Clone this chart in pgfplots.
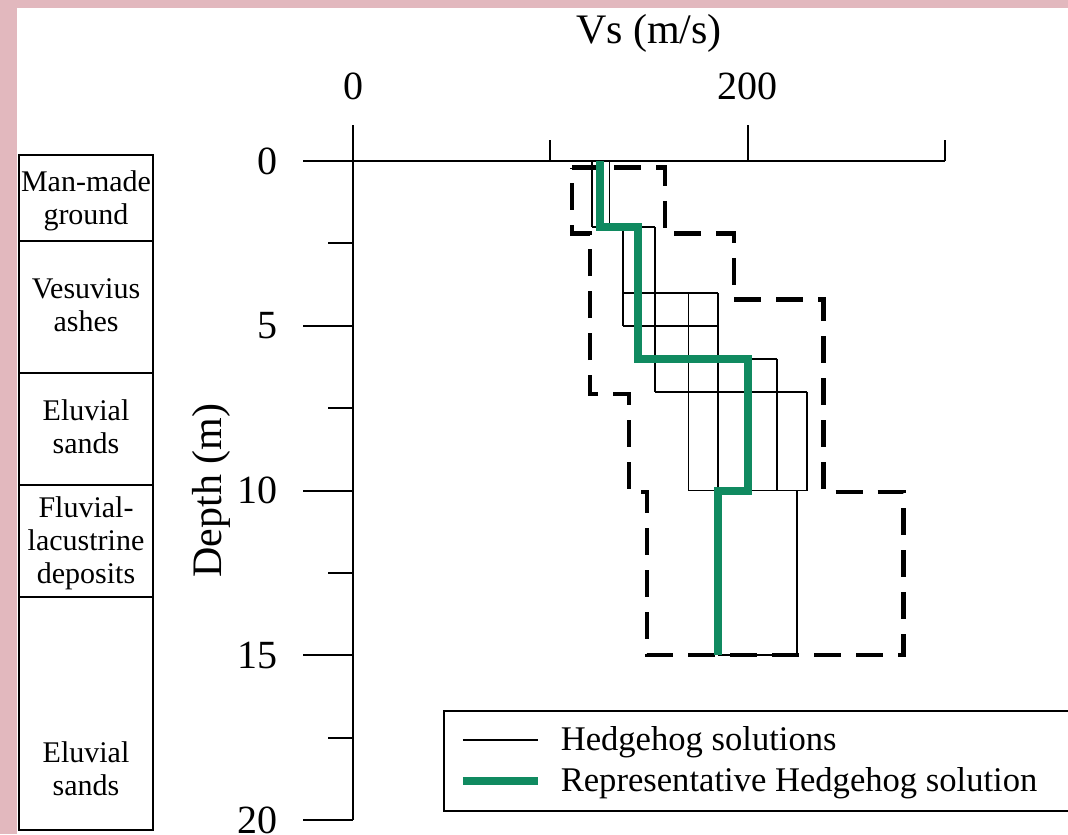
\documentclass[border=0pt]{standalone}
\usepackage{fontspec}
\setmainfont{Liberation Serif}
\usepackage{pgfplots}
\pgfplotsset{compat=1.18}
\definecolor{bgpink}{RGB}{226,184,190}
\definecolor{hgreen}{RGB}{16,138,96}
\begin{document}
\begin{tikzpicture}
\path[use as bounding box] (0,0) rectangle (534pt,-417pt);
\clip (0,0) rectangle (534pt,-417pt);
\fill[bgpink] (0,0) rectangle (534pt,-417pt);
\fill[white] (8.5pt,-4pt) rectangle (534pt,-417pt);
% soil column
\begin{scope}[line width=0.9pt]
\draw (9.5pt,-77.5pt) rectangle (76.5pt,-415pt);
\foreach \yy in {120.5,186.5,242.5,298.5} \draw (9.5pt,-\yy pt) -- (76.5pt,-\yy pt);
\end{scope}
\begin{scope}[every node/.style={align=center, font=\fontsize{15}{16.5}\selectfont}]
\node at (43pt,-100.5pt) {Man-made\\ground};
\node at (43pt,-152.75pt) {Vesuvius\\ashes};
\node at (43pt,-213.5pt) {Eluvial\\sands};
\node at (43pt,-271.75pt) {Fluvial-\\lacustrine\\deposits};
\node at (43pt,-384.5pt) {Eluvial\\sands};
\end{scope}
% y axis
\begin{axis}[
 at={(176.5pt,-80.5pt)}, anchor=north west,
 scale only axis, width=296pt, height=329.5pt,
 xmin=0, xmax=300, ymin=0, ymax=20, y dir=reverse,
 axis y line*=left, axis x line=none, xtick=\empty,
 y axis line style={-, line width=1pt},
 ytick={0,5,10,15,20}, minor ytick={2.5,7.5,12.5,17.5},
 tick align=outside, major tick length=25pt, minor tick length=12.5pt,
 tick style={black, line width=1pt},
 ticklabel style={font=\fontsize{20}{24}\selectfont},
 yticklabel shift=9pt,
 /pgf/number format/assume math mode=true,
 ylabel={Depth (m)}, ylabel style={font=\fontsize{21}{25}\selectfont},
 ylabel shift=-3pt,
]
\end{axis}
% data axis
\begin{axis}[
 at={(176.5pt,-80.5pt)}, anchor=north west,
 scale only axis, width=296pt, height=329.5pt,
 xmin=0, xmax=300, ymin=0, ymax=20, y dir=reverse,
 axis x line*=top, axis y line=none, ytick=\empty,
 x axis line style={-, line width=1pt},
 xtick={0,200}, minor xtick={100,300},
 tick align=outside, major tick length=18pt, minor tick length=10.5pt,
 tick style={black, line width=1pt},
 ticklabel style={font=\fontsize{20}{24}\selectfont},
 xticklabel shift=9pt,
 /pgf/number format/assume math mode=true,
 xlabel={Vs (m/s)}, xlabel style={font=\fontsize{21}{25}\selectfont},
 xlabel shift=3.5pt,
 clip=false,
 unbounded coords=jump,
 legend cell align=left,
 legend image code/.code={\draw[#1] (0pt,0pt) -- (37.5pt,0pt); \path (45pt,0pt);},
 legend style={at={(0.152,0.167)}, anchor=north west, draw=black, line width=0.8pt,
   font=\fontsize{17.3}{20}\selectfont, inner xsep=7.5pt, inner ysep=6pt, row sep=3pt},
]
% envelope (dashed)
\addplot[forget plot, black, line width=2.2pt, dash pattern=on 13.5pt off 7.5pt] coordinates {
 (111,0.2) (158,0.2) (158,2.2) (193,2.2) (193,4.2) (238.5,4.2) (238.5,10.05)
 (279,10.05) (279,15) (149,15) (149,10.05) (140,10.05) (140,7.07) (120,7.07)
 (120,2.2) (111,2.2) (111,0.2)};
% hedgehog solutions
\addplot[forget plot, black, line width=0.9pt] coordinates {
 (121,0) (121,2) (nan,nan)
 (130,0) (130,2) (nan,nan)
 (137,2) (137,5) (nan,nan)
 (153,2) (153,7) (nan,nan)
 (170,4) (170,10) (nan,nan)
 (185,4) (185,15) (nan,nan)
 (215,6) (215,10) (nan,nan)
 (230,7) (230,10) (nan,nan)
 (225,10) (225,15) (nan,nan)
 (121,2) (153,2) (nan,nan)
 (137,4) (185,4) (nan,nan)
 (137,5) (185,5) (nan,nan)
 (144,6) (215,6) (nan,nan)
 (153,7) (230,7) (nan,nan)
 (170,10) (230,10) (nan,nan)
 (185,15) (225,15)};
% representative
\addplot[forget plot, hgreen, line width=4pt] coordinates {
 (125,0) (125,2) (144.5,2) (144.5,6) (200,6) (200,10) (185,10) (185,15)};
\addlegendimage{black, line width=0.9pt}
\addlegendentry{Hedgehog solutions}
\addlegendimage{hgreen, line width=4pt}
\addlegendentry{Representative Hedgehog solution\hspace{40pt}\null}
\end{axis}
\end{tikzpicture}
\end{document}
